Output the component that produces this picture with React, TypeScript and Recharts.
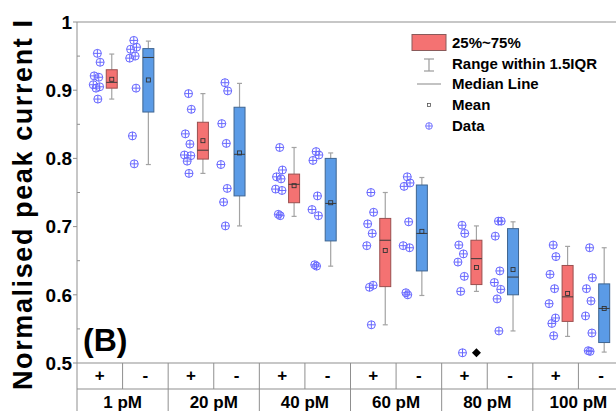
import { ComposedChart, Bar, Scatter, XAxis, YAxis, ReferenceLine } from 'recharts';

const concentrations = ['1 pM', '20 pM', '40 pM', '60 pM', '80 pM', '100 pM'];
const conditions = ['+', '-'];

// individual normalised peak currents per concentration
const plusData = [
  [0.954, 0.941, 0.921, 0.919, 0.908, 0.905, 0.903, 0.887],
  [0.895, 0.872, 0.836, 0.821, 0.805, 0.804, 0.796, 0.778],
  [0.816, 0.783, 0.773, 0.77, 0.755, 0.753, 0.718, 0.716],
  [0.75, 0.721, 0.704, 0.69, 0.672, 0.614, 0.611, 0.556],
  [0.702, 0.69, 0.673, 0.66, 0.648, 0.627, 0.605, 0.515],
  [0.673, 0.656, 0.63, 0.609, 0.587, 0.566, 0.558, 0.54],
];
const minusData = [
  [0.973, 0.963, 0.96, 0.95, 0.947, 0.903, 0.833, 0.792],
  [0.911, 0.899, 0.851, 0.822, 0.791, 0.756, 0.736, 0.701],
  [0.81, 0.805, 0.797, 0.745, 0.725, 0.716, 0.644, 0.642],
  [0.773, 0.764, 0.759, 0.707, 0.672, 0.669, 0.603, 0.6],
  [0.708, 0.708, 0.686, 0.635, 0.618, 0.608, 0.594, 0.547],
  [0.669, 0.625, 0.609, 0.591, 0.569, 0.544, 0.518, 0.517],
];

// box statistics: whisker ends, quartiles, median and mean
const plusBoxes = [
  { low: 0.887, q1: 0.903, median: 0.9115, q3: 0.93, high: 0.953, mean: 0.916 },
  { low: 0.778, q1: 0.799, median: 0.812, q3: 0.853, high: 0.895, mean: 0.826 },
  { low: 0.715, q1: 0.735, median: 0.762, q3: 0.777, high: 0.816, mean: 0.76 },
  { low: 0.556, q1: 0.612, median: 0.68, q3: 0.712, high: 0.75, mean: 0.665 },
  { low: 0.605, q1: 0.615, median: 0.653, q3: 0.68, high: 0.701, mean: 0.64 },
  { low: 0.539, q1: 0.561, median: 0.597, q3: 0.643, high: 0.671, mean: 0.602 },
];
const minusBoxes = [
  { low: 0.791, q1: 0.868, median: 0.948, q3: 0.961, high: 0.972, mean: 0.915 },
  { low: 0.701, q1: 0.745, median: 0.806, q3: 0.875, high: 0.91, mean: 0.808 },
  { low: 0.642, q1: 0.679, median: 0.734, q3: 0.8, high: 0.808, mean: 0.735 },
  { low: 0.599, q1: 0.635, median: 0.69, q3: 0.761, high: 0.772, mean: 0.693 },
  { low: 0.547, q1: 0.6, median: 0.626, q3: 0.697, high: 0.707, mean: 0.637 },
  { low: 0.516, q1: 0.53, median: 0.58, q3: 0.616, high: 0.669, mean: 0.58 },
];
const plusOutliers = [[], [], [], [], [0.515], []];

const yTicks = [0.5, 0.55, 0.6, 0.65, 0.7, 0.75, 0.8, 0.85, 0.9, 0.95, 1];

// layout inside each slot (slot units)
const BOX_SHIFT = [0.263, 0.066];
const DOT_SHIFT = [-0.053, -0.254];
const JITTER = [0, 0.06, -0.07, 0.03, -0.09, 0.05, -0.03, 0.01];
const BOX_HALF = 5.5;

const RED = '#f47272';
const BLUE = '#5b9be6';
const DOT = '#6868ff';
const GRID = '#8f8f8f';
const FONT = '"Liberation Sans", Arial, sans-serif';

// axis ids: the sign row sits directly under the plot, the concentration row below it
const SIGN_AXIS = 'a-sign';
const CONC_AXIS = 'b-conc';

const slotX = (g: number, c: number) => 2 * g + c + 0.5;

const boxRows = concentrations.flatMap((_, g) =>
  [plusBoxes[g], minusBoxes[g]].map((b, c) => ({ ...b, x: slotX(g, c) + BOX_SHIFT[c], kind: c }))
);

const dotRows = concentrations.flatMap((_, g) =>
  [plusData[g], minusData[g]].flatMap((vals, c) =>
    vals.map((v, i) => ({ x: slotX(g, c) + DOT_SHIFT[c] + JITTER[i % JITTER.length], y: v }))
  )
);

const outlierRows = plusOutliers.flatMap((vals, g) =>
  vals.map((v) => ({ x: slotX(g, 0) + BOX_SHIFT[0], y: v }))
);

const signTicks = Array.from({ length: 25 }, (_, i) => i / 2);
const concTicks = Array.from({ length: 13 }, (_, i) => i);

// whiskers, IQR box, median and mean for one row; the bar only supplies the y scale
function BoxShape(props: any) {
  const { x, y, width, height, payload } = props;
  if (!payload || !isFinite(height)) return null;
  const top = Math.min(y, y + height);
  const h = Math.abs(height);
  const k = h / (payload.q3 - payload.q1);
  const py = (v: number) => top + (payload.q3 - v) * k;
  const cx = x + width / 2;
  const left = cx - BOX_HALF;
  const cap = 2.5;
  const fill = payload.kind === 0 ? RED : BLUE;
  const edge = payload.kind === 0 ? '#9a4f4f' : '#3f6591';
  const mY = py(payload.mean);
  return (
    <g>
      <g stroke="#a3a3a3" strokeWidth={1.2}>
        <line x1={cx} x2={cx} y1={py(payload.high)} y2={top} />
        <line x1={cx} x2={cx} y1={top + h} y2={py(payload.low)} />
        <line x1={cx - cap} x2={cx + cap} y1={py(payload.high)} y2={py(payload.high)} />
        <line x1={cx - cap} x2={cx + cap} y1={py(payload.low)} y2={py(payload.low)} />
      </g>
      <rect x={left} y={top} width={BOX_HALF * 2} height={h} fill={fill} stroke={edge} strokeWidth={1} />
      <line x1={left} x2={left + BOX_HALF * 2} y1={py(payload.median)} y2={py(payload.median)} stroke="#3a3a3a" strokeWidth={1} />
      <rect x={cx - 2} y={mY - 2} width={4} height={4} fill="none" stroke="#333" strokeWidth={0.9} />
    </g>
  );
}

function DataDot(props: any) {
  const { cx, cy } = props;
  if (cx == null || cy == null) return null;
  const r = 4;
  return (
    <g stroke={DOT} strokeWidth={1} fill="none">
      <circle cx={cx} cy={cy} r={r} />
      <line x1={cx - r} x2={cx + r} y1={cy} y2={cy} />
      <line x1={cx} x2={cx} y1={cy - r} y2={cy + r} />
    </g>
  );
}

function OutlierMark(props: any) {
  const { cx, cy } = props;
  if (cx == null || cy == null) return null;
  const r = 4.5;
  return <path d={`M${cx},${cy - r}L${cx + r},${cy}L${cx},${cy + r}L${cx - r},${cy}Z`} fill="#000" />;
}

function YTick(props: any) {
  const { x, y, payload } = props;
  const v = payload.value;
  const major = Math.abs(v * 10 - Math.round(v * 10)) < 1e-6;
  if (!major) return <line x1={x} x2={x + 3} y1={y} y2={y} stroke={GRID} />;
  return (
    <g>
      <line x1={x - 4} x2={x} y1={y} y2={y} stroke={GRID} />
      <text x={x - 5} y={y} dy="0.36em" textAnchor="end" fontFamily={FONT} fontWeight="bold" fontSize={19} fill="#000">
        {v === 1 ? '1' : v.toFixed(1)}
      </text>
    </g>
  );
}

function SignTick(props: any) {
  const { x, y, payload } = props;
  const v = payload.value;
  if (Number.isInteger(v)) return <line x1={x} x2={x} y1={y} y2={y + 26} stroke={GRID} />;
  return (
    <text x={x} y={y + 18} textAnchor="middle" fontFamily={FONT} fontWeight="bold" fontSize={17} fill="#000">
      {conditions[Math.floor(v) % 2]}
    </text>
  );
}

function ConcTick(props: any) {
  const { x, y, payload } = props;
  const v = payload.value;
  if (v % 2 === 0) return <line x1={x} x2={x} y1={y} y2={y + 30} stroke={GRID} />;
  return (
    <text x={x} y={y + 19} textAnchor="middle" fontFamily={FONT} fontWeight="bold" fontSize={17} fill="#000">
      {concentrations[(v - 1) / 2]}
    </text>
  );
}

function YLabel() {
  return (
    <text
      x={32}
      y={205}
      transform="rotate(-90 32 205)"
      textAnchor="middle"
      fontFamily={FONT}
      fontWeight="bold"
      fontSize={27}
      textLength={370}
      lengthAdjust="spacing"
      fill="#000"
    >
      Normalised peak current I
    </text>
  );
}

function LegendBox() {
  const rows = [43, 63.5, 84, 105, 126];
  const labels = ['25%~75%', 'Range within 1.5IQR', 'Median Line', 'Mean', 'Data'];
  const ix = 429;
  return (
    <svg width={616} height={411} style={{ position: 'absolute', left: 0, top: 0, pointerEvents: 'none' }}>
      <rect x={412} y={34.5} width={34} height={16} fill={RED} stroke="#8a5a5a" />
      <g stroke="#9a9a9a" strokeWidth={1.2}>
        <line x1={ix} x2={ix} y1={59} y2={71} />
        <line x1={ix - 5} x2={ix + 5} y1={59} y2={59} />
        <line x1={ix - 5} x2={ix + 5} y1={71} y2={71} />
        <line x1={417} x2={441} y1={rows[2]} y2={rows[2]} />
      </g>
      <rect x={ix - 1.5} y={rows[3] - 1.5} width={3} height={3} fill="none" stroke="#555" strokeWidth={0.8} />
      <g stroke={DOT} strokeWidth={0.9} fill="none">
        <circle cx={ix} cy={rows[4]} r={3.3} />
        <line x1={ix - 3.3} x2={ix + 3.3} y1={rows[4]} y2={rows[4]} />
        <line x1={ix} x2={ix} y1={rows[4] - 3.3} y2={rows[4] + 3.3} />
      </g>
      {labels.map((t, i) => (
        <text key={t} x={452} y={rows[i]} dy="0.36em" fontFamily={FONT} fontWeight="bold" fontSize={15} fill="#000">
          {t}
        </text>
      ))}
      <text x={83} y={351} fontFamily={FONT} fontWeight="bold" fontSize={32} fill="#000">
        (B)
      </text>
      <YLabel />
    </svg>
  );
}

export default function App() {
  return (
    <div
      style={{
        position: 'fixed',
        left: 0,
        top: 0,
        width: 616,
        height: 411,
        overflow: 'hidden',
        background: '#fff',
        fontFamily: FONT,
      }}
    >
      <ComposedChart width={640} height={415} data={boxRows} margin={{ top: 22, right: 16, bottom: 0, left: 0 }}>
        <XAxis
          xAxisId={SIGN_AXIS}
          dataKey="x"
          type="number"
          domain={[0, 12]}
          ticks={signTicks}
          interval={0}
          height={26}
          tickSize={0}
          tickMargin={0}
          tickLine={false}
          axisLine={{ stroke: GRID }}
          tick={(p: any) => <SignTick {...p} />}
        />
        <XAxis
          xAxisId={CONC_AXIS}
          dataKey="x"
          type="number"
          domain={[0, 12]}
          ticks={concTicks}
          interval={0}
          height={26}
          tickSize={0}
          tickMargin={0}
          tickLine={false}
          axisLine={{ stroke: GRID }}
          tick={(p: any) => <ConcTick {...p} />}
        />
        <YAxis
          type="number"
          domain={[0.5, 1]}
          allowDataOverflow
          ticks={yTicks}
          interval={0}
          width={77}
          tickSize={0}
          tickMargin={0}
          tickLine={false}
          axisLine={{ stroke: GRID }}
          tick={(p: any) => <YTick {...p} />}
        />
        <ReferenceLine xAxisId={SIGN_AXIS} y={1} stroke={GRID} />
        <Bar
          xAxisId={SIGN_AXIS}
          dataKey={(r: any) => [r.q1, r.q3]}
          barSize={11}
          shape={(p: any) => <BoxShape {...p} />}
          isAnimationActive={false}
        />
        <Scatter
          xAxisId={SIGN_AXIS}
          data={dotRows}
          dataKey="y"
          shape={(p: any) => <DataDot {...p} />}
          isAnimationActive={false}
        />
        <Scatter
          xAxisId={SIGN_AXIS}
          data={outlierRows}
          dataKey="y"
          shape={(p: any) => <OutlierMark {...p} />}
          isAnimationActive={false}
        />
      </ComposedChart>
      <LegendBox />
    </div>
  );
}
